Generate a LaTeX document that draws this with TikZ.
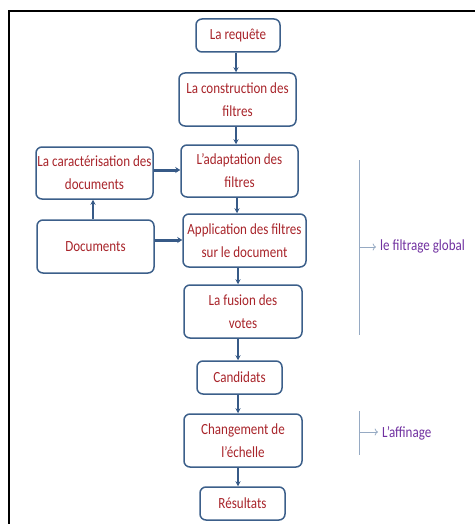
\documentclass[tikz,border=0pt]{standalone}
\usepackage{fontspec}
\setmainfont{Carlito}[FakeStretch=0.84]
\usepackage{tikz}
\usetikzlibrary{arrows.meta}
\definecolor{bordbleu}{RGB}{60,95,138}
\definecolor{flechebleu}{RGB}{55,90,135}
\definecolor{texterouge}{RGB}{168,36,42}
\definecolor{violetfiltre}{RGB}{112,48,160}
\definecolor{grisbleu}{RGB}{150,170,195}
\tikzset{
  boite/.style={draw=bordbleu, line width=1.5pt, rounded corners=6pt, text=texterouge,
    align=center, inner sep=0pt, font=\fontsize{15.5}{23}\selectfont},
  fleche/.style={-{Stealth[length=5pt,width=5pt]}, line width=1.3pt, draw=flechebleu},
  grosfleche/.style={-{Stealth[length=5pt,width=6pt]}, line width=3pt, draw=flechebleu},
  accolade/.style={draw=grisbleu, line width=0.8pt},
  etiquette/.style={text=violetfiltre, inner sep=1pt, font=\fontsize{15.5}{18}\selectfont}
}
\begin{document}
\begin{tikzpicture}[x=1pt,y=-1pt]
	\useasboundingbox (0,0) rectangle (475,524);
	% cadre
	\draw [line width=2pt] (9,524) -- (9,11) -- (475,11);
	% colonne principale
	\node [boite, minimum width=84pt, minimum height=33pt] (req) at (238,35.5) {La requête};
	\node [boite, minimum width=117pt, minimum height=53pt] (constr) at (237.5,99.5) {La construction des\\filtres};
	\node [boite, minimum width=117pt, minimum height=52pt] (adapt) at (239.5,171) {L’adaptation des\\filtres};
	\node [boite, minimum width=123pt, minimum height=53pt] (appl) at (244.5,240.5) {Application des filtres\\sur le document};
	\node [boite, minimum width=118pt, minimum height=53pt] (fusion) at (243,311.5) {La fusion des\\votes};
	\node [boite, minimum width=85pt, minimum height=33pt] (cand) at (239.5,377.5) {Candidats};
	\node [boite, minimum width=118pt, minimum height=53pt] (chang) at (243,440.5) {Changement de\\l’échelle};
	\node [boite, minimum width=85pt, minimum height=33pt] (res) at (242.5,503.5) {Résultats};
	% colonne de gauche
	\node [boite, minimum width=117pt, minimum height=52pt] (carac) at (94.5,173) {La caractérisation des\\documents};
	\node [boite, minimum width=117pt, minimum height=53pt] (docs) at (95.5,246.5) {Documents};
	% fleches
	\draw [fleche] (236,0 |- req.south) -- (236,0 |- constr.north);
	\draw [fleche] (236,0 |- constr.south) -- (236,0 |- adapt.north);
	\draw [fleche] (237,0 |- adapt.south) -- (237,0 |- appl.north);
	\draw [fleche] (238,0 |- appl.south) -- (238,0 |- fusion.north);
	\draw [fleche] (238,0 |- fusion.south) -- (238,0 |- cand.north);
	\draw [fleche] (238,0 |- cand.south) -- (238,0 |- chang.north);
	\draw [fleche] (238,0 |- chang.south) -- (238,0 |- res.north);
	\draw [fleche] (93,0 |- docs.north) -- (93,0 |- carac.south);
	\draw [grosfleche] (carac.east |- 0,170) -- (adapt.west |- 0,170);
	\draw [grosfleche] (docs.east |- 0,240) -- (appl.west |- 0,240);
	% partie droite
	\coordinate (g1) at (359,160);
	\coordinate (g2) at (359,335);
	\coordinate (gm) at (359,247);
	\node [etiquette, anchor=base west] (global) at (379,250) {le filtrage global};
	\draw [accolade] (g1) -- (g2);
	\draw [accolade, ->, shorten >=3pt] (gm) -- (global.west |- gm);
	\coordinate (a1) at (359,411);
	\coordinate (a2) at (359,455);
	\coordinate (am) at (359,432);
	\node [etiquette, anchor=base west] (affin) at (381,437) {L’affinage};
	\draw [accolade] (a1) -- (a2);
	\draw [accolade, ->, shorten >=3pt] (am) -- (affin.west |- am);
\end{tikzpicture}
\end{document}
